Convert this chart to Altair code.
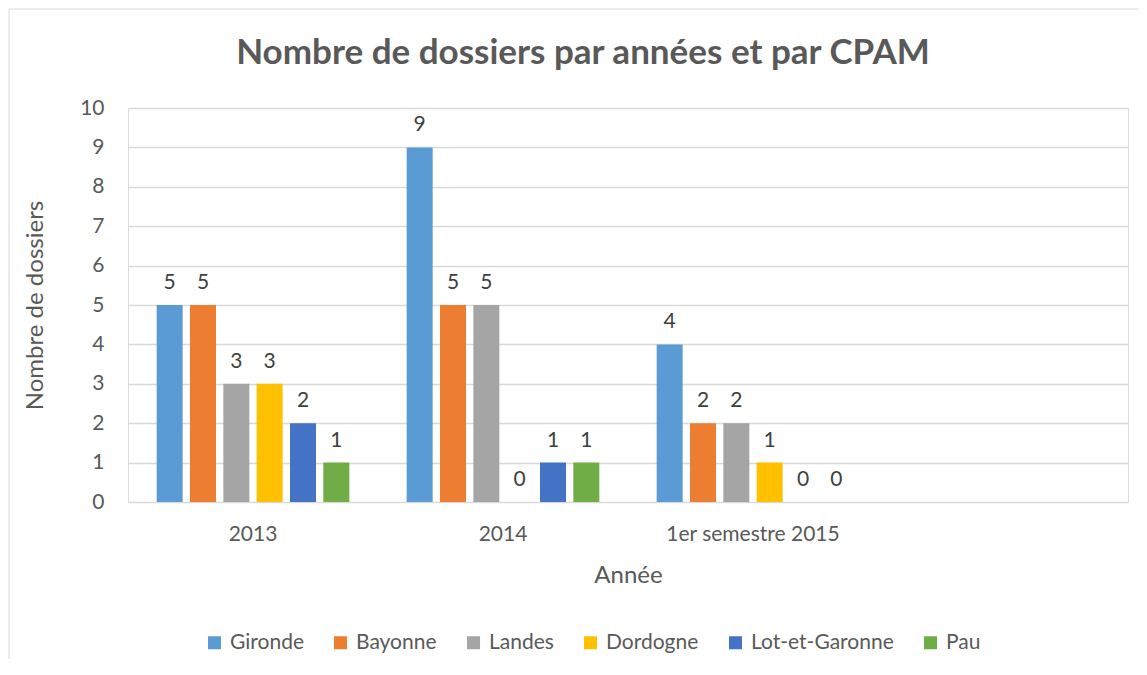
import altair as alt
import pandas as pd

categories = ["2013", "2014", "1er semestre 2015", " "]
cpam = ["Gironde", "Bayonne", "Landes", "Dordogne", "Lot-et-Garonne", "Pau"]
colors = ["#5B9BD5", "#ED7D31", "#A5A5A5", "#FFC000", "#4472C4", "#70AD47"]
v2013 = [5, 5, 3, 3, 2, 1]
v2014 = [9, 5, 5, 0, 1, 1]
v2015 = [4, 2, 2, 1, 0, 0]
y_ticks = list(range(0, 11))

rows = []
for cat, vals in zip(categories[:3], [v2013, v2014, v2015]):
    for c, v in zip(cpam, vals):
        rows.append({"Année": cat, "CPAM": c, "Dossiers": v})
df = pd.DataFrame(rows)

FONT = "Lato"
TXT = "#595959"

x_enc = alt.X(
    "Année:N",
    sort=categories,
    scale=alt.Scale(domain=categories, paddingInner=0, paddingOuter=0),
    axis=alt.Axis(
        title="Année", domain=False, ticks=False, labelAngle=0,
        labelFont=FONT, labelFontSize=21, labelColor=TXT, labelPadding=21,
        titleFont=FONT, titleFontSize=24, titleFontWeight="normal", titleColor=TXT,
        titlePadding=19,
    ),
)
xoff_enc = alt.XOffset(
    "CPAM:N", sort=cpam,
    scale=alt.Scale(domain=cpam, paddingInner=0.22, paddingOuter=0.86),
)
y_axis = alt.Axis(
    values=y_ticks, grid=True, gridColor="#D9D9D9", gridWidth=1.3,
    domain=False, ticks=False, labelFont=FONT, labelFontSize=21,
    labelColor=TXT, labelPadding=24, labelOverlap=False,
    title="Nombre de dossiers", titleFont=FONT, titleFontSize=24,
    titleFontWeight="normal", titleColor=TXT, titleAngle=-90,
    titleX=-93, titleY=197, titleAlign="center", titleBaseline="middle",
)
y_enc = alt.Y("Dossiers:Q", scale=alt.Scale(domain=[0, 10], nice=False), axis=y_axis)

bars = alt.Chart(df).mark_bar().encode(
    x=x_enc,
    xOffset=xoff_enc,
    y=y_enc,
    color=alt.Color(
        "CPAM:N", sort=cpam,
        scale=alt.Scale(domain=cpam, range=colors),
        legend=alt.Legend(
            orient="none", legendX=76, legendY=524, direction="horizontal",
            title=None, symbolType="square", symbolSize=169, symbolStrokeWidth=0,
            labelFont=FONT, labelFontSize=21, labelColor=TXT,
            columnPadding=26, labelOffset=5, columns=6,
        ),
    ),
)

labels = alt.Chart(df).mark_text(
    font=FONT, fontSize=21, color="#404040", baseline="alphabetic", dy=-16
).encode(
    x=x_enc,
    xOffset=xoff_enc,
    y=y_enc,
    text=alt.Text("Dossiers:Q"),
)

frame = alt.Chart(pd.DataFrame({"k": [0]})).mark_rect(
    filled=False, stroke="#D9D9D9", strokeWidth=1
).encode(
    x=alt.value(-119), x2=alt.value(1060), y=alt.value(-99), y2=alt.value(700)
)

chart = alt.layer(frame, bars, labels).properties(
    width=1000,
    height=394,
    autosize=alt.AutoSizeParams(type="none"),
    padding={"left": 120, "top": 100, "right": 11, "bottom": 157},
    title=alt.TitleParams(
        "Nombre de dossiers par années et par CPAM",
        font=FONT, fontSize=35, fontWeight="bold", color=TXT,
        anchor="middle", frame="group", dx=-45, offset=0, dy=90,
        baseline="alphabetic",
    ),
).configure_view(strokeWidth=0).configure(background="white")

chart.save("out.html", embed_options={"renderer": "svg", "actions": False})
